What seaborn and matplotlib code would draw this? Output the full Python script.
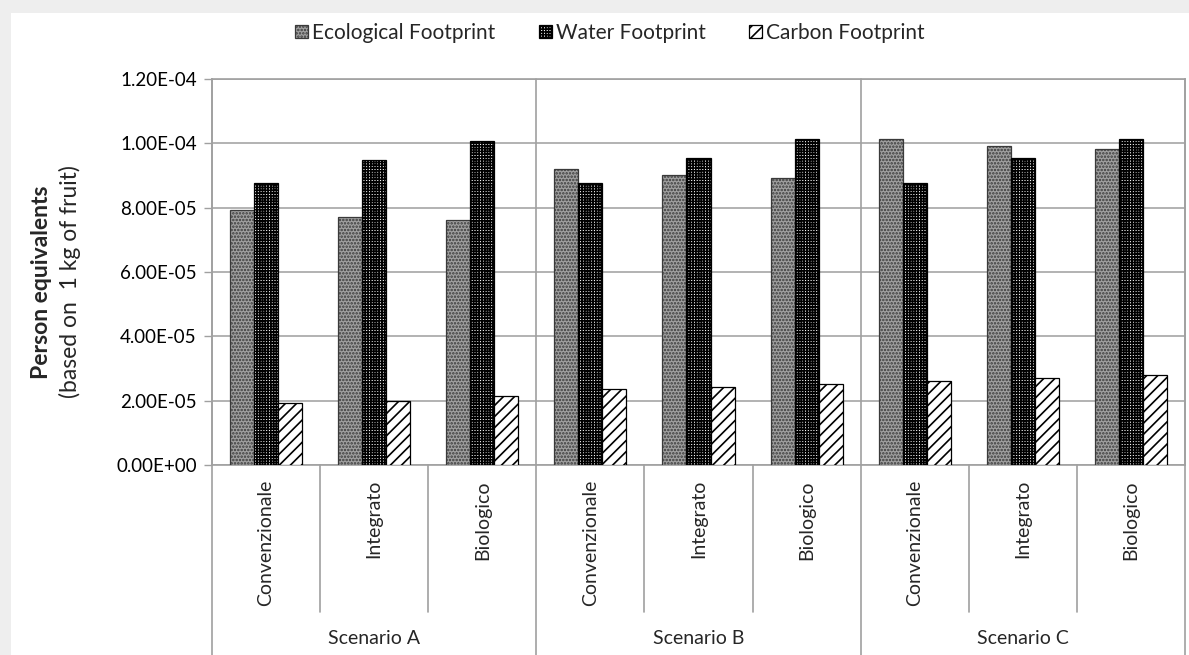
import matplotlib
matplotlib.use("Agg")
import pandas as pd
import matplotlib.pyplot as plt
import seaborn as sns
from matplotlib.patches import Rectangle, Patch
from matplotlib.ticker import FuncFormatter, MultipleLocator

sns.set_theme(style="white")
plt.rcParams['font.family'] = ['Lato', 'DejaVu Sans']
plt.rcParams['hatch.linewidth'] = 1.2

# dati
scenari = ["Scenario A", "Scenario B", "Scenario C"]
sistemi = ["Convenzionale", "Integrato", "Biologico"]
serie = ["Ecological Footprint", "Water Footprint", "Carbon Footprint"]

ecological = [7.93e-05, 7.70e-05, 7.63e-05,
              9.19e-05, 9.03e-05, 8.93e-05,
              1.012e-04, 9.92e-05, 9.82e-05]
water = [8.78e-05, 9.48e-05, 1.007e-04,
         8.78e-05, 9.53e-05, 1.012e-04,
         8.78e-05, 9.53e-05, 1.012e-04]
carbon = [1.92e-05, 2.00e-05, 2.14e-05,
          2.35e-05, 2.43e-05, 2.52e-05,
          2.60e-05, 2.72e-05, 2.81e-05]

righe = []
for i, (e, w, c) in enumerate(zip(ecological, water, carbon)):
    cat = f"{scenari[i // 3]}|{sistemi[i % 3]}"
    for nome, v in zip(serie, [e, w, c]):
        righe.append({"categoria": cat, "serie": nome, "valore": v})
df = pd.DataFrame(righe)
ordine = [f"{s}|{t}" for s in scenari for t in sistemi]

# stili delle serie (retini in bianco e nero)
stili = {
    "Ecological Footprint": dict(fc="#a0a0a0", ec="#3a3a3a", hatch="....."),
    "Water Footprint": dict(fc="white", ec="black", hatch="++++++"),
    "Carbon Footprint": dict(fc="white", ec="black", hatch="///"),
}

fig = plt.figure(figsize=(11.89, 6.55), dpi=100)
fig.patch.set_facecolor("#eeeeee")
fig.patches.append(Rectangle((11 / 1189, 0), 1, 1 - 13 / 655, transform=fig.transFigure,
                             facecolor="white", edgecolor="none", zorder=-10))

ax = fig.add_axes([212 / 1189, 190 / 655, 973 / 1189, 386 / 655])
sns.barplot(data=df, x="categoria", y="valore", hue="serie", order=ordine,
            hue_order=serie, width=0.667, ax=ax, legend=False, saturation=1)

for cont, nome in zip(ax.containers, serie):
    st = stili[nome]
    for p in cont:
        p.set_facecolor(st["fc"])
        p.set_edgecolor(st["ec"])
        p.set_hatch(st["hatch"])
        p.set_linewidth(0.9)
        p.set_zorder(3)

ax.set_xlim(-0.5, 8.5)
ax.set_ylim(0, 1.2e-04)
ax.yaxis.set_major_locator(MultipleLocator(2e-05))
ax.yaxis.set_major_formatter(FuncFormatter(lambda v, pos: f"{v:.2E}"))
ax.tick_params(axis="y", left=True, length=6, width=1, color="#a0a0a0",
               labelsize=13.5, pad=5, labelcolor="black")
ax.set_xticks([])
ax.set_xlabel("")
ax.set_ylabel("")
ax.grid(axis="y", color="#a6a6a6", linewidth=1.2, zorder=0)
ax.set_axisbelow(True)
for s in ax.spines.values():
    s.set_color("#a0a0a0")
    s.set_linewidth(1.2)

# asse categorie a due livelli
trans = ax.get_xaxis_transform()
giu_corto = -(612 - 465) / 386
giu_lungo = -(655 - 465) / 386
for k, cat in enumerate(ordine):
    ax.text(k, -15 / 386, cat.split("|")[1], rotation=90, ha="center", va="top",
            fontsize=14, transform=trans, clip_on=False)
for b in [0.5, 1.5, 3.5, 4.5, 6.5, 7.5]:
    ax.plot([b, b], [0, giu_corto], color="#a0a0a0", lw=1.2, transform=trans, clip_on=False)
for b in [-0.5, 2.5, 5.5, 8.5]:
    ax.plot([b, b], [1, giu_lungo], color="#a0a0a0", lw=1.2, transform=trans, clip_on=False,
            zorder=1)
for j, sc in enumerate(scenari):
    ax.text(3 * j + 1, -(638 - 465) / 386, sc, ha="center", va="center",
            fontsize=14, transform=trans, clip_on=False)

# titolo asse y
fig.text(42 / 1189, 1 - 282 / 655, "Person equivalents", rotation=90, ha="center",
         va="center", fontsize=16.5, fontweight="bold")
fig.text(70 / 1189, 1 - 282 / 655, "(based on  1 kg of fruit)", rotation=90, ha="center",
         va="center", fontsize=16.5)

# legenda
maniglie = [Patch(facecolor=stili[n]["fc"], edgecolor=stili[n]["ec"], hatch=stili[n]["hatch"],
                  linewidth=0.9, label=n) for n in serie]
fig.legend(handles=maniglie, loc="center", bbox_to_anchor=(610 / 1189, 1 - 33 / 655),
           ncol=3, frameon=False, fontsize=15, handlelength=0.6, handleheight=0.6,
           handletextpad=0.2, columnspacing=2.1)

fig.savefig("out.png", dpi=100, facecolor=fig.get_facecolor())
